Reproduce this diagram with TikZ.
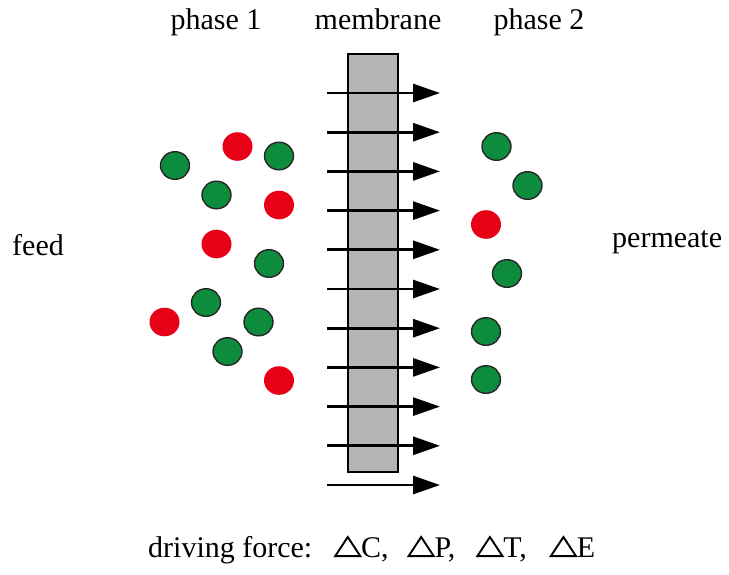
\documentclass[tikz,border=0pt]{standalone}
\usepackage{fontspec}
\setmainfont{Liberation Serif}
\usetikzlibrary{arrows.meta}
\definecolor{molgreen}{RGB}{14,140,62}
\definecolor{molred}{RGB}{232,0,22}
\definecolor{memgray}{RGB}{180,180,180}
% outline difference triangle used in the driving-force line
\newcommand{\difftri}{\tikz[baseline=0pt]\draw[line width=1.9pt, line join=miter] (1pt,0.95pt) -- (26pt,0.95pt) -- (13.5pt,20pt) -- cycle;}
\tikzset{
  label/.style={font=\fontsize{30}{34}\selectfont, anchor=base, inner sep=0pt},
  greenmol/.style={draw=black!85, line width=1.4pt, fill=molgreen},
  redmol/.style={fill=molred},
  flux/.style={line width=2.9pt, -{Triangle[length=27pt,width=18pt]}},
  membr/.style={draw=black, line width=2pt, fill=memgray}
}
\begin{document}
\begin{tikzpicture}[x=1pt,y=-1pt]
\useasboundingbox (0,0) rectangle (729,574);

% labels
\node[label] (p1) at (216,29) {phase 1};
\node[label] (mb) at (378,29) {membrane};
\node[label] (p2) at (539,29) {phase 2};
\node[label, anchor=base west] (feed) at (12,255) {feed};
\node[label, anchor=base west] (perm) at (612,247) {permeate};
\node[label, anchor=base west] (df) at (148,557) {driving force:\hspace{22pt}\difftri C,\hspace{19pt}\difftri P,\hspace{21pt}\difftri T,\hspace{23pt}\difftri E};

% membrane
\node[membr, minimum width=50pt, minimum height=418pt, inner sep=0pt] (mem) at (372.5,263) {};

% permeation arrows
\foreach \i in {0,...,10}{
  \coordinate (fs\i) at (327,{93+39.2*\i});
  \coordinate (fe\i) at (440,{93+39.2*\i});
  \draw[flux] (fs\i) -- (fe\i);
}

% molecules in phase 1
\foreach \n/\x/\y in {g1/279/156, g2/175/165.5, g3/216.5/195, g4/269/263.5, g5/206/302.5, g6/258.5/322, g7/227.5/351.5}
  \fill[greenmol] (\x,\y) ellipse [x radius=14.5pt, y radius=13.8pt] coordinate (\n);
\foreach \n/\x/\y in {r1/237.5/146.5, r2/279/205, r3/216.5/244, r4/164.5/322, r5/279/380.5}
  \fill[redmol] (\x,\y) ellipse [x radius=15pt, y radius=14.3pt] coordinate (\n);

% molecules in phase 2
\foreach \n/\x/\y in {h1/496.5/146.5, h2/527.5/185.5, h3/507/273.5, h4/486/331.5, h5/486/379.5}
  \fill[greenmol] (\x,\y) ellipse [x radius=14.5pt, y radius=13.8pt] coordinate (\n);
\fill[redmol] (486,224.5) ellipse [x radius=15pt, y radius=14.3pt] coordinate (s1);
\end{tikzpicture}
\end{document}
